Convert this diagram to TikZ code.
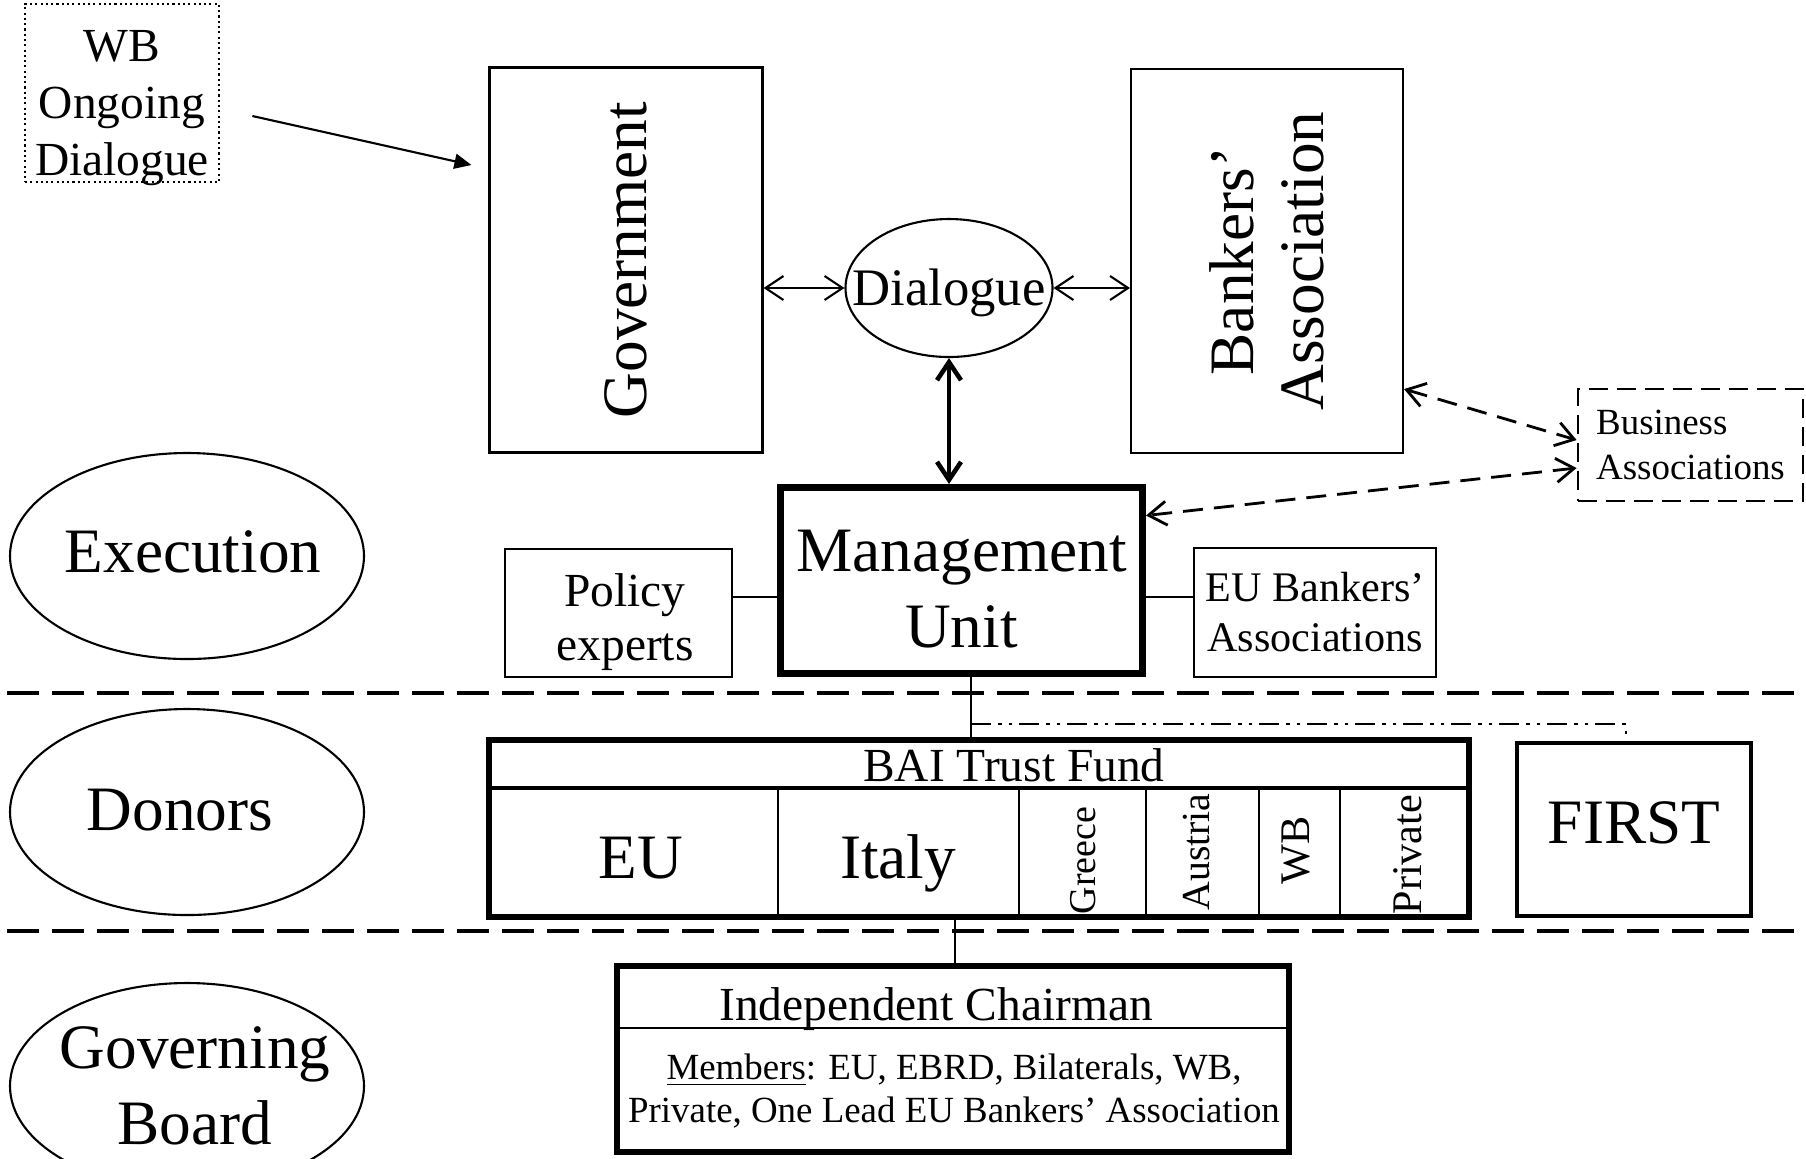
\documentclass[tikz,border=0pt]{standalone}
\usepackage{fontspec}
\setmainfont{Liberation Serif}
\usetikzlibrary{arrows.meta,shapes.geometric}

\newcommand{\hugefnt}{\fontsize{18}{21.5}\selectfont}
\newcommand{\dlgfnt}{\fontsize{15}{17}\selectfont}
\newcommand{\midfnt}{\fontsize{13.5}{15.4}\selectfont}
\newcommand{\smlfnt}{\fontsize{12}{14.2}\selectfont}
\newcommand{\tinyfnt}{\fontsize{10.5}{12.6}\selectfont}

\begin{document}
\begin{tikzpicture}[x=0.1mm, y=-0.1mm, >={Straight Barb[length=1.8mm,width=2.4mm]},
		box/.style={draw, line width=0.6pt, inner sep=0pt},
		oval/.style={draw, ellipse, line width=0.6pt, inner sep=0pt, minimum width=35.4mm, minimum height=20.6mm},
		link/.style={line width=0.6pt},
		dlink/.style={<->, line width=0.8pt, dash pattern=on 2mm off 1.1mm},
		sep/.style={line width=1.1pt, dash pattern=on 3.2mm off 1.3mm},
		dashdot/.style={line width=0.8pt, dash pattern=on 2mm off 0.7mm on 0.35mm off 0.7mm on 0.35mm off 0.7mm},
		vtext/.style={rotate=90, inner sep=0pt, anchor=base west}]
	
	\useasboundingbox (0,0) rectangle (1806,1158);
	
	\node[oval] (exec) at (187,556) {};
	\node[font=\hugefnt] (exectext) at (193,552) {Execution};
	\node[oval] (donors) at (187,812) {};
	\node[font=\hugefnt] (donorstext) at (180,810) {Donors};
	\node[oval] (gboard) at (187,1086) {};
	\node[font=\hugefnt, align=center] (gboardtext) at (195,1086) {Governing\\Board};
	
	\draw[sep] (7,693) -- (1806,693);
	\draw[sep] (7,931) -- (1806,931);
	
	\node[box, line width=0.8pt, dash pattern=on 0.6pt off 0.9pt, minimum width=19.4mm, minimum height=17.8mm] (wb) at (122,93) {};
	\node[font={\fontsize{13.5}{16.1}\selectfont}, align=center] (wbtext) at (122,108) {WB\\Ongoing\\Dialogue};
	
	\node[box, minimum width=27.3mm, minimum height=38.5mm] (gov) at (626,260) {};
	\node[rotate=90, inner sep=0pt, font=\hugefnt] (govtext) at (gov) {Government};
	\node[box, minimum width=27.2mm, minimum height=38.4mm] (bank) at (1267,261) {};
	\node[rotate=90, inner sep=0pt, font={\fontsize{18}{20}\selectfont}, align=center] (banktext) at (bank) {Bankers'\\Association};
	
	\node[draw, ellipse, line width=0.6pt, inner sep=0pt, minimum width=20.7mm, minimum height=13.8mm] (dlg) at (949,288) {};
	\node[font=\dlgfnt, inner sep=0pt, anchor=base] (dlgtext) at (949,305) {Dialogue};
	
	\node[draw, line width=2pt, inner sep=0pt, minimum width=36.2mm, minimum height=18.6mm] (mu) at (961.5,580.5) {};
	\node[font=\hugefnt, align=center] (mutext) at (961.5,589) {Management\\Unit};
	\node[box, minimum width=22.7mm, minimum height=12.8mm] (pol) at (618.5,613) {};
	\node[font=\midfnt, align=center] (poltext) at (625,622) {Policy\\experts};
	\node[box, minimum width=24.2mm, minimum height=12.9mm, font=\smlfnt, align=center] (eub) at (1315,612.5) {EU Bankers'\\Associations};
	\node[box, line width=0.8pt, dash pattern=on 1.9mm off 0.9mm, minimum width=22.5mm, minimum height=11.2mm,
		font=\tinyfnt, align=left] (bus) at (1690.5,445) {Business\\Associations};
	
	\draw[-{Triangle[length=1.7mm,width=1.5mm]}, link] ([xshift=3.2mm,yshift=-2.3mm]wb.east) -- ([xshift=-1.7mm,yshift=9.5mm]gov.west);
	\draw[<->, link] (dlg.west -| gov.east) -- (dlg.west);
	\draw[<->, link] (dlg.east) -- (dlg.east -| bank.west);
	\draw[<->, line width=1.3pt] (dlg.south) -- (dlg.south |- mu.north);
	\draw[dlink] ([yshift=6.5mm]bank.south east) -- ([yshift=0.5mm]bus.west);
	\draw[dlink] ([yshift=-2.3mm]bus.west) -- ([yshift=6.5mm]mu.east);
	\draw[link] ([yshift=-1.65mm]mu.west) -- ([yshift=-1.65mm]mu.west -| pol.east);
	\draw[link] ([yshift=-1.65mm]mu.east) -- ([yshift=-1.65mm]mu.east -| eub.west);
	
	\node[draw, line width=1.7pt, inner sep=0pt, minimum width=98mm, minimum height=17.7mm] (tf) at (979,828.5) {};
	\draw[line width=1.4pt] (489,788) -- (1469,788);
	\foreach \x in {778,1019,1146,1259,1340}
		\draw[link] (\x,788) -- (\x,917);
	\node[font=\midfnt, anchor=base] (tfhead) at (1014,781) {BAI Trust Fund};
	\node[font=\hugefnt, anchor=base] (eu) at (641,878) {EU};
	\node[font=\hugefnt, anchor=base] (italy) at (898,878) {Italy};
	\node[vtext, font={\fontsize{10.8}{12}\selectfont}] (greece) at (1095,915) {Greece};
	\node[vtext, font={\fontsize{11.3}{13}\selectfont}] (austria) at (1209,911) {Austria};
	\node[vtext, font={\fontsize{12}{14}\selectfont}] (wbfund) at (1309,885) {WB};
	\node[vtext, font={\fontsize{12}{14}\selectfont}] (private) at (1421,915) {Private};
	
	\node[draw, line width=1.2pt, inner sep=0pt, minimum width=23.4mm, minimum height=17.3mm] (first) at (1634,829.5) {};
	\node[font=\hugefnt, anchor=base] (firsttext) at (1634,843) {FIRST};
	
	\draw[link] ([xshift=0.95mm]mu.south) -- ([xshift=0.95mm]mu.south |- tf.north);
	\coordinate (split) at (971,724);
	\draw[dashdot] (split) -| ([xshift=-0.8mm]first.north);
	
	\node[draw, line width=1.9pt, inner sep=0pt, minimum width=67.2mm, minimum height=18.6mm] (gb) at (953,1059) {};
	\draw[link] (617,1028) -- (1289,1028);
	\node[font=\midfnt, anchor=base] (chair) at (936,1020) {Independent Chairman};
	\node[font={\fontsize{10.5}{12.3}\selectfont}, align=center] (members) at (954,1091) {\underline{Members}: EU, EBRD, Bilaterals, WB,\\Private, One Lead EU Bankers' Association};
	
	\draw[link] ([xshift=-2.4mm]tf.south) -- ([xshift=-2.4mm]tf.south |- gb.north);
	
\end{tikzpicture}
\end{document}
